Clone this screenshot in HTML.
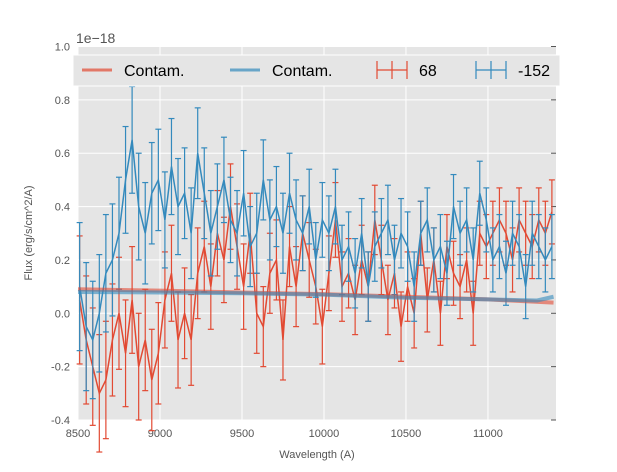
<!DOCTYPE html>
<html><head><meta charset="utf-8"><style>
body{margin:0;background:#fff;font-family:"Liberation Sans",sans-serif}
svg text{font-family:"Liberation Sans",sans-serif}
</style></head><body>
<svg id="c" width="617" height="467" xmlns="http://www.w3.org/2000/svg"></svg>
<script>
const xStart=8510, xStep=40;
const redVals=[0.05,-0.1,-0.2,-0.3,-0.25,-0.1,0.0,-0.15,0.05,-0.2,-0.1,-0.25,-0.15,
0.05,0.15,-0.1,0.0,-0.1,0.15,0.25,0.1,0.3,0.2,0.4,0.25,0.1,
0.3,0.0,-0.05,0.15,0.2,-0.1,0.25,0.1,0.3,0.2,0.1,-0.05,0.15,
0.35,0.1,0.15,0.05,0.2,0.1,0.35,0.2,0.05,0.15,-0.05,0.1,0.0,
0.3,0.05,0.2,0.0,0.25,0.15,0.1,0.2,0.0,0.3,0.25,0.3,0.35,
0.3,0.2,0.35,0.3,0.25,0.35,0.3,0.38];
const redErr=[0.24,0.24,0.22,0.22,0.22,0.21,0.21,0.2,0.2,0.2,0.19,0.19,0.19,
0.18,0.18,0.18,0.17,0.17,0.17,0.17,0.16,0.16,0.16,0.16,0.16,0.16,
0.15,0.15,0.15,0.15,0.15,0.15,0.15,0.15,0.14,0.14,0.14,0.14,0.14,
0.14,0.13,0.13,0.13,0.13,0.13,0.13,0.13,0.13,0.13,0.13,0.13,0.13,
0.12,0.12,0.12,0.12,0.12,0.12,0.12,0.12,0.12,0.12,0.12,0.12,0.12,
0.12,0.12,0.12,0.12,0.12,0.12,0.12,0.12];
const blueVals=[0.1,-0.05,-0.1,0.0,0.15,0.2,0.3,0.5,0.65,0.4,0.3,0.45,0.5,
0.35,0.55,0.4,0.45,0.3,0.6,0.45,0.3,0.4,0.5,0.35,0.3,0.45,
0.25,0.3,0.5,0.35,0.4,0.3,0.45,0.35,0.3,0.4,0.2,0.35,0.3,
0.4,0.2,0.25,0.15,0.3,0.1,0.25,0.3,0.35,0.2,0.3,0.25,0.1,
0.3,0.35,0.2,0.25,0.15,0.4,0.3,0.35,0.2,0.45,0.35,0.2,0.25,
0.15,0.3,0.25,0.1,0.3,0.25,0.2,0.25];
const blueErr=redErr;
const redContX=[8500,9000,9500,10000,10500,11000,11400];
const redContY=[0.09,0.085,0.078,0.072,0.062,0.052,0.04];
const blueContX=[8500,9000,9500,10000,10500,11000,11300,11400];
const blueContY=[0.08,0.078,0.075,0.07,0.058,0.052,0.048,0.062];
const xTicks=[8500,9000,9500,10000,10500,11000];
const yTicks=[-0.4,-0.2,0.0,0.2,0.4,0.6,0.8,1.0];

const NS="http://www.w3.org/2000/svg", svg=document.getElementById('c');
const L=78,R=556,T=46.5,B=420, X0=8500,X1=11415,Y0=-0.4,Y1=1.0;
const sx=v=>L+(v-X0)/(X1-X0)*(R-L), sy=v=>B-(v-Y0)/(Y1-Y0)*(B-T);
function el(t,a,p){const e=document.createElementNS(NS,t);for(const k in a)e.setAttribute(k,a[k]);(p||svg).appendChild(e);return e;}
const bg=el('rect',{x:L,y:T,width:R-L,height:B-T,fill:'#e5e5e5'});


xTicks.forEach(v=>{const g=el('line',{x1:sx(v),x2:sx(v),y1:T,y2:B,stroke:'#fff','stroke-width':1});


const t=el('text',{x:sx(v),y:B+17,'text-anchor':'middle','font-size':11,fill:'#555'});t.textContent=v;

});
yTicks.forEach(v=>{const g=el('line',{x1:L,x2:R,y1:sy(v),y2:sy(v),stroke:'#fff','stroke-width':1});


el('line',{x1:R-5,x2:R,y1:sy(v),y2:sy(v),stroke:'#555'});
const t=el('text',{x:L-8,y:sy(v)+4,'text-anchor':'end','font-size':11,fill:'#555'});t.textContent=v.toFixed(1);

});
function series(vals,errs,col,name){
 const g=el('g',{});
 
 
 vals.forEach((v,i)=>{const x=sx(xStart+i*xStep),y1=sy(v+errs[i]),y2=sy(v-errs[i]);
  el('line',{x1:x,x2:x,y1:y1,y2:y2,stroke:col,'stroke-width':1.2},g);
  el('line',{x1:x-3,x2:x+3,y1:y1,y2:y1,stroke:col,'stroke-width':1.2},g);
  el('line',{x1:x-3,x2:x+3,y1:y2,y2:y2,stroke:col,'stroke-width':1.2},g);});
 el('polyline',{points:vals.map((v,i)=>sx(xStart+i*xStep)+','+sy(v)).join(' '),fill:'none',stroke:col,'stroke-width':1.5},g);
}
series(redVals,redErr,'#e24a33','series-68');
series(blueVals,blueErr,'#348abd','series-minus-152');
function cont(xs,ys,col,name){const p=el('polyline',{points:xs.map((x,i)=>sx(x)+','+sy(ys[i])).join(' '),fill:'none',stroke:col,'stroke-width':4,opacity:0.6});

}
cont(redContX,redContY,'#e24a33','contam-red');
cont(blueContX,blueContY,'#348abd','contam-blue');
</script>
<svg width="617" height="467" style="position:absolute;left:0;top:0">
<text x="76" y="43" font-size="14" fill="#555">1e−18</text>
<text x="317" y="458" font-size="11" fill="#555" text-anchor="middle">Wavelength (A)</text>
<text x="32" y="233" font-size="11" fill="#555" text-anchor="middle" transform="rotate(-90 32 233)">Flux (erg/s/cm^2/A)</text>
<g>
<rect x="73" y="55" width="487" height="31" fill="#e5e5e5" stroke="#fff"/>
<line x1="82" y1="70" x2="112" y2="70" stroke="#e24a33" stroke-width="3" opacity="0.7"/>
<text x="124" y="76" font-size="16" fill="#000">Contam.</text>
<line x1="230" y1="70" x2="260" y2="70" stroke="#348abd" stroke-width="3" opacity="0.7"/>
<text x="272" y="76" font-size="16" fill="#000">Contam.</text>
<g stroke="#e24a33" stroke-width="1.2"><line x1="377" y1="70" x2="407" y2="70"/><line x1="392" y1="61" x2="392" y2="79"/><line x1="377" y1="61" x2="377" y2="79"/><line x1="407" y1="61" x2="407" y2="79"/></g>
<text x="419" y="76" font-size="16" fill="#000">68</text>
<g stroke="#348abd" stroke-width="1.2"><line x1="476" y1="70" x2="506" y2="70"/><line x1="491" y1="61" x2="491" y2="79"/><line x1="476" y1="61" x2="476" y2="79"/><line x1="506" y1="61" x2="506" y2="79"/></g>
<text x="518" y="76" font-size="16" fill="#000">-152</text>
</g>
</svg>
</body></html>
